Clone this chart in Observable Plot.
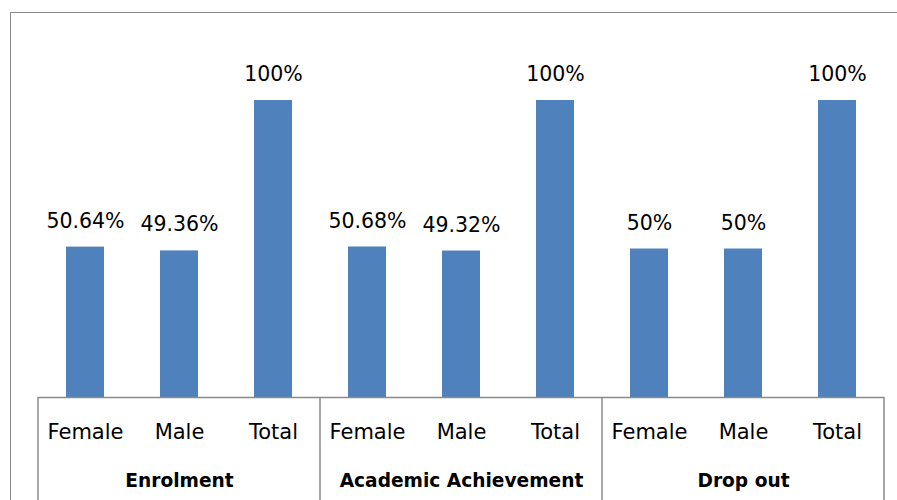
<!DOCTYPE html>
<html>
<head>
<meta charset="utf-8">
<script src="https://cdn.jsdelivr.net/npm/d3@7"></script>
<script src="https://cdn.jsdelivr.net/npm/@observablehq/plot@0.6"></script>
<style>
  html, body { margin: 0; padding: 0; background: #fff; overflow: hidden; }
  #wrap { position: relative; width: 897px; height: 500px; }
  #border { position: absolute; left: 10px; top: 12px; width: 920px; height: 600px;
            border: 1.5px solid #8a8a8a; pointer-events: none; box-sizing: border-box; }
</style>
</head>
<body>
<div id="wrap"><div id="border"></div></div>
<script>
const groups = ["Enrolment", "Academic Achievement", "Drop out"];
const categories = ["Female", "Male", "Total"];
const enrolment = [50.64, 49.36, 100];
const academic = [50.68, 49.32, 100];
const dropout = [50, 50, 100];

const series = [enrolment, academic, dropout];
const data = [];
groups.forEach((g, i) => categories.forEach((c, j) => data.push({group: g, category: c, value: series[i][j]})));

const font = "DejaVu Sans, sans-serif";
const chart = Plot.plot({
  width: 897,
  height: 500,
  marginLeft: 37,
  marginRight: 13,
  marginTop: 100,
  marginBottom: 103,
  style: {fontFamily: font, color: "#000", background: "transparent", overflow: "visible"},
  fx: {domain: groups, padding: 0, label: null},
  x: {domain: categories, paddingInner: 0.6, paddingOuter: 0.3, label: null},
  y: {domain: [0, 100], axis: null},
  marks: [
    Plot.barY(data, {fx: "group", x: "category", y: "value", fill: "#4F81BD"}),
    Plot.ruleY([0], {stroke: "#8a8a8a", strokeWidth: 1.5}),
    Plot.text(data, {fx: "group", x: "category", y: "value", text: d => d.value + "%",
      dy: -26, lineAnchor: "middle", fontSize: 20.5, fill: "#000"}),
    Plot.axisX({tickSize: 0, tickPadding: 27, fontSize: 21, fill: "#000", label: null}),
    Plot.axisFx({anchor: "bottom", tickSize: 0, tickPadding: 76, fontSize: 18.6, fontWeight: "bold", fill: "#000", label: null})
  ]
});

document.getElementById("wrap").appendChild(chart);

// group separators, positioned with the plot's own scales
const fx = chart.scale("fx");
const y = chart.scale("y");
const svg = d3.select(chart);
const y0 = y.apply(0);
const bounds = groups.map(g => fx.apply(g));
bounds.push(fx.apply(groups[groups.length - 1]) + fx.bandwidth);
svg.append("g").selectAll("line").data(bounds).join("line")
  .attr("x1", d => d).attr("x2", d => d)
  .attr("y1", y0).attr("y2", 500)
  .attr("stroke", "#8a8a8a").attr("stroke-width", 1.5);
</script>
</body>
</html>
